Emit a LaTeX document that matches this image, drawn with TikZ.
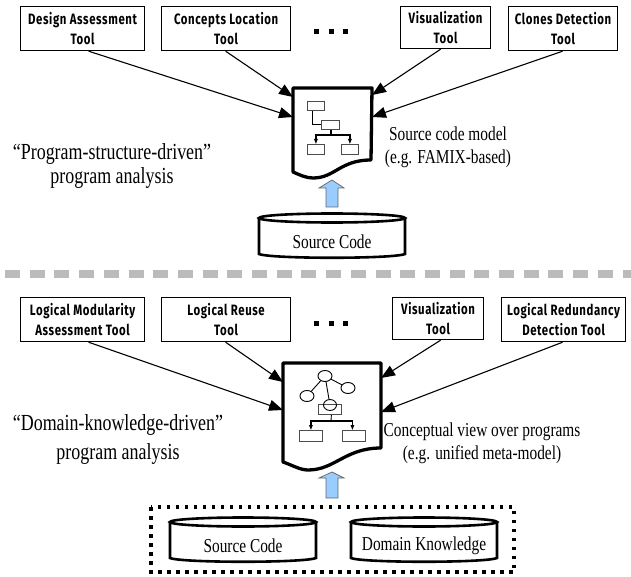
\documentclass[tikz,border=0pt]{standalone}
\usepackage{fontspec}
\setmainfont{Liberation Serif}[FakeStretch=0.78]
\newfontfamily\toolfont{Fira Sans}[UprightFont=* Bold,FakeStretch=0.76,LetterSpace=4]
\usetikzlibrary{arrows.meta,calc,shapes.geometric}
\definecolor{blueA}{HTML}{99CCFF}
\definecolor{sepgray}{HTML}{BBBBBB}
\tikzset{
  x=1pt,y=-1pt,
  toolbox/.style={draw=black,line width=1.2pt,fill=white,align=center,inner sep=0pt,font=\toolfont\fontsize{15}{19.5}\selectfont,anchor=north west},
  lbl/.style={align=center,inner sep=0pt,font=\fontsize{19.7}{23}\selectfont},
  biglbl/.style={align=center,inner sep=0pt,font=\fontsize{23}{#1}\selectfont},
  feed/.style={draw=black,line width=1.1pt,-{Triangle[length=14pt,width=11pt]}},
  docline/.style={line width=3.3pt,line join=round},
  inner/.style={draw=black!70,line width=.8pt,fill=white,inner sep=0pt,anchor=north west},
  ring/.style={draw=black,line width=.9pt,fill=white,ellipse,inner sep=0pt},
  tree/.style={draw=black,line width=1.2pt},
  treearrow/.style={draw=black,line width=1.2pt,-{Triangle[length=5pt,width=3.5pt]}},
  cyl/.style={line width=2.6pt,draw=black,fill=white},
  blockup/.style={draw=black!60,line width=.7pt,fill=blueA},
  dotsq/.style={fill=black,minimum size=5pt,inner sep=0pt},
}
\newcommand{\toolnode}[6]{\node[toolbox,minimum width=#3pt,minimum height=#4pt] (#1) at (#2) {#5\\#6};}
\newcommand{\cylnode}[5]{%
  \path[cyl] (#2,#3+5) -- (#2,#4-4) .. controls (#2+12,#4+1) and (#2+134,#4+1) .. (#2+146,#4-4) -- (#2+146,#3+5);
  \path[cyl] (#2+73,#3+5) ellipse [x radius=73,y radius=4.5];
  \node[lbl] (#1) at (#2+73,#3+29) {#5};
}
\begin{document}
\begin{tikzpicture}
\useasboundingbox (0,0) rectangle (631,577);
% --- top half ---
\toolnode{ta}{20,6}{124}{44}{Design Assessment}{Tool}
\toolnode{tb}{161,6}{129}{44}{Concepts Location}{Tool}
\toolnode{tc}{400,6}{90}{42}{Visualization}{Tool}
\toolnode{td}{508,6}{109}{44}{Clones Detection}{Tool}
\node[dotsq] (d1) at (316.5,32) {};
\node[dotsq] (d2) at (331,32) {};
\node[dotsq] (d3) at (345,32) {};
\coordinate (docAnw) at (293,88);
\coordinate (docAne) at (372,88);
\draw[docline] (docAnw) -- (293,172) .. controls (300,175) and (306,178) .. (313,178)
   .. controls (335,178) and (340,160) .. (371,160) -- (docAne) -- cycle;
\draw[feed] ([xshift=6pt]ta.south) -- ([yshift=-29pt]docAnw);
\draw[feed] ([xshift=-0.5pt]tb.south) -- ([yshift=-9pt]docAnw);
\draw[feed] ([xshift=-5pt]tc.south) -- ([yshift=-7pt]docAne);
\draw[feed] ([xshift=-.5pt]td.south) -- ([yshift=-29pt]docAne);
\node[inner,minimum width=17pt,minimum height=9pt] (ma) at (307,101) {};
\node[inner,minimum width=18pt,minimum height=9pt] (mb) at (321,120) {};
\node[inner,minimum width=17pt,minimum height=10pt] (mc) at (307,144) {};
\node[inner,minimum width=17pt,minimum height=10pt] (md) at (341,144) {};
\draw[tree] ([xshift=-3.5pt]ma.south) |- (mb.west);
\coordinate (mj) at (331,135);
\draw[tree] (mb.south -| mj) -- (mj);
\draw[treearrow] (mj) -| (mc.north);
\draw[treearrow] (mj) -| (md.north);
\coordinate (srcTop) at (332,180);
\draw[blockup] (srcTop) -- (344,188) -- (338,188) -- (338,207) -- (326,207) -- (326,188) -- (319,188) -- cycle;
\cylnode{cyA}{259}{213}{258}{Source Code}
\node[biglbl=24] (la) at (112,166.5) {``Program-structure-driven''\\program analysis};
\node[lbl] (lb) at (448,147.5) {Source code model\\(e.g. FAMIX-based)};
% --- separator ---
\coordinate (sepL) at (5,274);
\coordinate (sepR) at (631,274);
\draw[sepgray,line width=7.5pt,dash pattern=on 15pt off 9.7pt] (sepL) -- (sepR);
% --- bottom half ---
\toolnode{ba}{20,297}{124}{44}{Logical Modularity}{Assessment Tool}
\toolnode{bb}{161,297}{129}{44}{Logical Reuse}{Tool}
\toolnode{bc}{392,297}{91}{42}{Visualization}{Tool}
\toolnode{bd}{501,297}{124}{44}{Logical Redundancy}{Detection Tool}
\node[dotsq] (e1) at (316.5,323) {};
\node[dotsq] (e2) at (331,323) {};
\node[dotsq] (e3) at (345,323) {};
\coordinate (docBnw) at (283,363);
\coordinate (docBne) at (381,363);
\draw[docline] (docBnw) -- (283,462) .. controls (292,465) and (300,470) .. (308,470)
   .. controls (335,470) and (345,448) .. (381,448) -- (docBne) -- cycle;
\draw[feed] ([xshift=6pt]ba.south) -- ([yshift=-47pt]docBnw);
\draw[feed] ([xshift=-0.5pt]bb.south) -- ([yshift=-19pt]docBnw);
\draw[feed] ([xshift=2.5pt]bc.south) -- ([yshift=-15pt]docBne);
\draw[feed] ([xshift=-1pt]bd.south) -- ([yshift=-49pt]docBne);
\node[ring,minimum width=14pt,minimum height=11pt] (ca) at (325,376) {};
\node[ring,minimum width=14pt,minimum height=11pt] (cb) at (307,396) {};
\node[ring,minimum width=14pt,minimum height=11pt] (cc) at (348,388) {};
\node[inner,minimum width=23pt,minimum height=10pt] (na) at (318,404) {};
\node[ring,minimum width=13pt,minimum height=11pt,fill=none] (cd) at (330,405) {};
\node[inner,minimum width=23pt,minimum height=11pt] (nb) at (299,430) {};
\node[inner,minimum width=23pt,minimum height=11pt] (nc) at (342,430) {};
\draw[line width=.9pt] (ca) -- (cb) (ca) -- (cc) (ca) -- (cd);
\coordinate (nj) at (331,421);
\draw[tree,line width=.9pt] ([xshift=1.5pt]na.south) -- (nj);
\draw[treearrow] (nj) -| (nb.north);
\draw[treearrow] (nj) -| ([xshift=-1.5pt]nc.north);
\coordinate (srcTopB) at (332,472);
\draw[blockup] (srcTopB) -- (344,478) -- (338,478) -- (338,498) -- (326,498) -- (326,478) -- (319,478) -- cycle;
\coordinate (frA) at (151,507);
\coordinate (frB) at (514,572);
\draw[line width=3.5pt,dash pattern=on 3.5pt off 5.5pt] (frA) rectangle (frB);
\cylnode{cyB}{170}{517}{562}{Source Code}
\cylnode{cyC}{351}{517}{562}{Domain Knowledge}
\node[biglbl=29] (lc) at (118,439) {``Domain-knowledge-driven''\\program analysis};
\node[lbl] (ld) at (482,443) {Conceptual view over programs\\(e.g. unified meta-model)};
\end{tikzpicture}
\end{document}
